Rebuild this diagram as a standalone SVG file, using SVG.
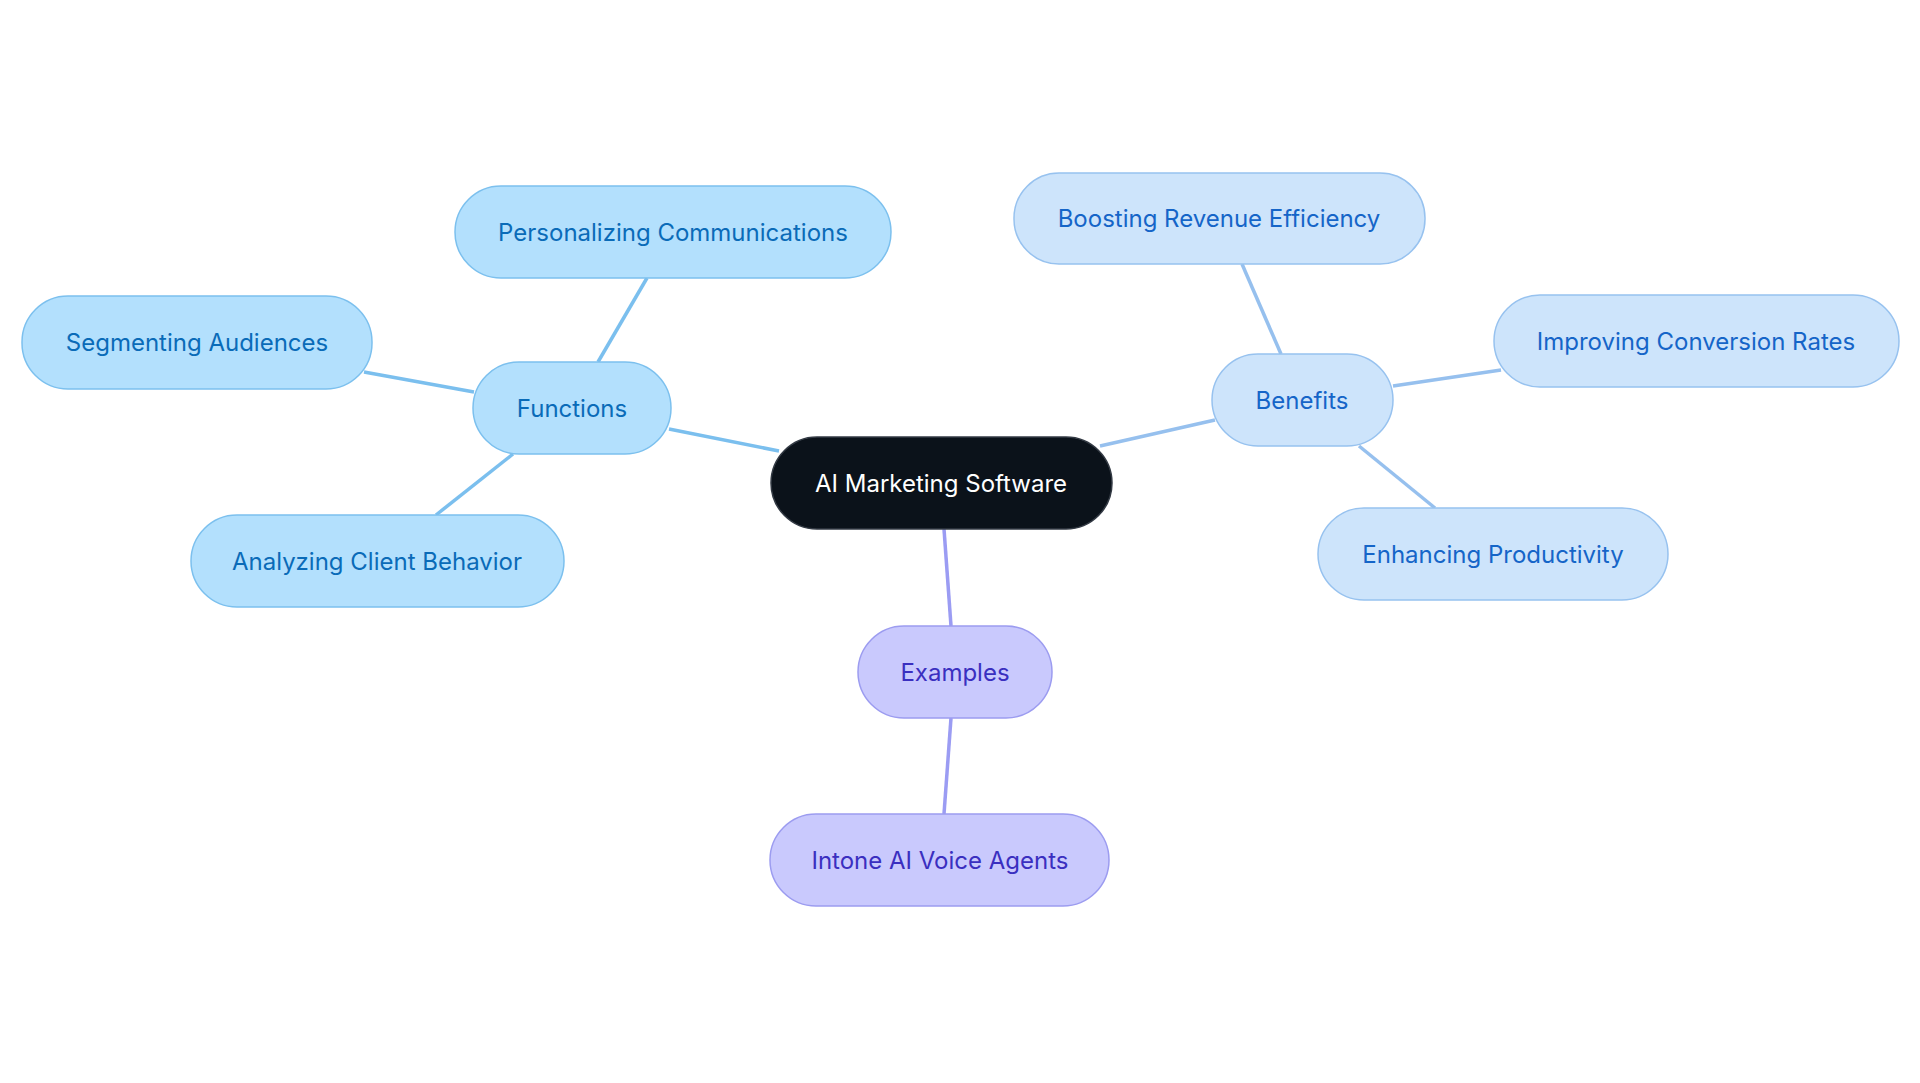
<svg xmlns="http://www.w3.org/2000/svg" width="1920" height="1083" viewBox="0 0 1920 1083">
<style>
text{font-family:Inter,"Noto Sans",sans-serif;font-size:24px;text-anchor:middle;dominant-baseline:central}
.f rect{fill:#b3e0fd;stroke:#7cc0ee;stroke-width:1.5}.f text{fill:#0a6bb8}
.b rect{fill:#cde4fb;stroke:#97c2ef;stroke-width:1.5}.b text{fill:#1565c8}
.e rect{fill:#c9c9fd;stroke:#9c9cf0;stroke-width:1.5}.e text{fill:#3a2fc0}
.c rect{fill:#0b121a;stroke:#333a44;stroke-width:1.5}.c text{fill:#fff}
#edges line{stroke-width:3.5;fill:none}
.lf{stroke:#7bbfee}.lb{stroke:#96c0ee}.le{stroke:#9b9cf3}
</style>
<rect width="1920" height="1083" fill="#fff"/>
<g id="edges">
<line class="lf" x1="779" y1="451" x2="669" y2="429"/>
<line class="lf" x1="598" y1="362" x2="647" y2="278"/>
<line class="lf" x1="474" y1="392" x2="364" y2="372"/>
<line class="lf" x1="513" y1="454" x2="436" y2="515"/>
<line class="lb" x1="1100" y1="446" x2="1215" y2="420"/>
<line class="lb" x1="1281" y1="354" x2="1242" y2="264"/>
<line class="lb" x1="1393" y1="386" x2="1501" y2="370"/>
<line class="lb" x1="1359" y1="446" x2="1435" y2="508"/>
<line class="le" x1="944" y1="529" x2="951" y2="626"/>
<line class="le" x1="951" y1="718" x2="944" y2="814"/>
</g>
<g id="center" class="c"><rect x="771" y="437" width="341" height="92" rx="46"/><text x="941" y="483">AI Marketing Software</text></g>
<g id="functions" class="f"><rect x="473" y="362" width="198" height="92" rx="46"/><text x="572" y="408">Functions</text></g>
<g id="personalizing" class="f"><rect x="455" y="186" width="436" height="92" rx="46"/><text x="673" y="232">Personalizing Communications</text></g>
<g id="segmenting" class="f"><rect x="22" y="296" width="350" height="93" rx="46"/><text x="197" y="342">Segmenting Audiences</text></g>
<g id="analyzing" class="f"><rect x="191" y="515" width="373" height="92" rx="46"/><text x="377" y="561">Analyzing Client Behavior</text></g>
<g id="benefits" class="b"><rect x="1212" y="354" width="181" height="92" rx="46"/><text x="1302" y="400">Benefits</text></g>
<g id="boosting" class="b"><rect x="1014" y="173" width="411" height="91" rx="45"/><text x="1219" y="218">Boosting Revenue Efficiency</text></g>
<g id="improving" class="b"><rect x="1494" y="295" width="405" height="92" rx="46"/><text x="1696" y="341">Improving Conversion Rates</text></g>
<g id="enhancing" class="b"><rect x="1318" y="508" width="350" height="92" rx="46"/><text x="1493" y="554">Enhancing Productivity</text></g>
<g id="examples" class="e"><rect x="858" y="626" width="194" height="92" rx="46"/><text x="955" y="672">Examples</text></g>
<g id="intone" class="e"><rect x="770" y="814" width="339" height="92" rx="46"/><text x="940" y="860">Intone AI Voice Agents</text></g>
</svg>
